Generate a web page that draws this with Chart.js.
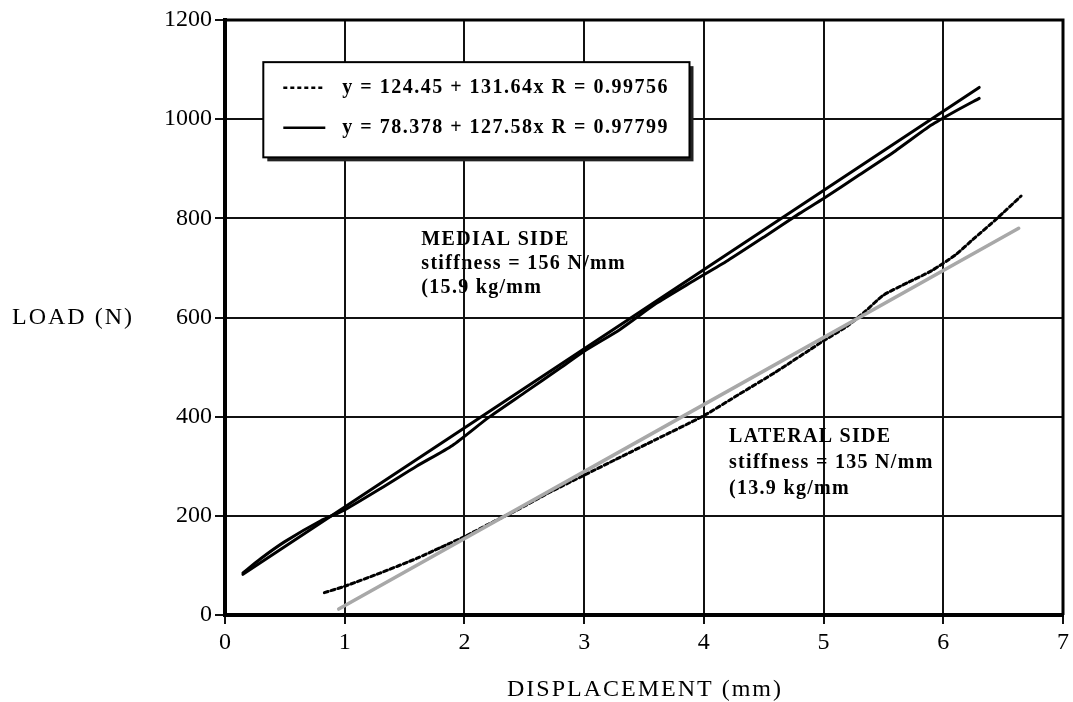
<!DOCTYPE html>
<html>
<head>
<meta charset="utf-8">
<script src="https://cdn.jsdelivr.net/npm/chart.js@4"></script>
<style>
  body { margin: 0; background: #fff; }
  #wrap { width: 1073px; height: 702px; position: relative; }
</style>
</head>
<body>
<div id="wrap"><canvas id="graph"></canvas></div>
<script>
// data
const medialX = [0.15, 0.3, 0.5, 0.8, 1.0, 1.3, 1.6, 1.9, 2.2, 2.5, 2.8, 3.0, 3.3, 3.6, 3.9, 4.2, 4.5, 4.8, 5.0, 5.3, 5.6, 5.9, 6.1, 6.3];
const medialY = [85, 114, 148, 190, 212, 255, 300, 342, 398, 448, 498, 532, 576, 628, 672, 715, 762, 810, 840, 888, 936, 988, 1016, 1042];
const medialFitX = [0.15, 6.3];
const medialFitY = [82, 1064];

const lateralX = [0.83, 1.0, 1.3, 1.6, 1.8, 2.0, 2.2, 2.45, 2.7, 3.0, 3.3, 3.6, 4.0, 4.3, 4.6, 5.0, 5.2, 5.35, 5.5, 5.7, 5.9, 6.1, 6.25, 6.45, 6.65];
const lateralY = [45, 58, 85, 114, 136, 158, 183, 213, 246, 282, 318, 354, 402, 446, 490, 553, 583, 613, 645, 670, 694, 726, 758, 800, 845];
const lateralFitX = [0.95, 6.63];
const lateralFitY = [12, 780];

const yTickLabels = ['0', '200', '400', '600', '800', '1000', '1200'];
const legendLines = ['y = 124.45 + 131.64x R = 0.99756', 'y = 78.378 + 127.58x R = 0.97799'];
const medialNote = ['MEDIAL SIDE', 'stiffness = 156 N/mm', '(15.9 kg/mm'];
const lateralNote = ['LATERAL SIDE', 'stiffness = 135 N/mm', '(13.9 kg/mm'];

const serif = '"Liberation Serif", "Times New Roman", serif';

function pts(xs, ys) {
    return xs.map((x, i) => ({ x: x, y: ys[i] }));
}

function writeLines(ctx, lines, x, y, step) {
    lines.forEach((t, i) => ctx.fillText(t, x, y + i * step));
}

const overlay = {
    id: 'overlay',
    beforeDraw(chart) {
        const ctx = chart.ctx;
        ctx.save();
        ctx.fillStyle = '#fff';
        ctx.fillRect(0, 0, chart.width, chart.height);
        ctx.restore();
    },
    afterDatasetsDraw(chart) {
        const ctx = chart.ctx;
        const a = chart.chartArea;
        const xs = chart.scales.x;
        const ys = chart.scales.y;

        // thick frame on top and right
        ctx.save();
        ctx.strokeStyle = '#000';
        ctx.lineWidth = 3;
        ctx.beginPath();
        ctx.moveTo(a.left, a.top);
        ctx.lineTo(a.right, a.top);
        ctx.lineTo(a.right, a.bottom);
        ctx.stroke();

        // legend box
        const bx = xs.getPixelForValue(0.32), by = ys.getPixelForValue(1115);
        const bw = xs.getPixelForValue(3.88) - bx, bh = ys.getPixelForValue(923) - by;
        ctx.fillStyle = '#222';
        ctx.fillRect(bx + 4, by + 4, bw, bh);
        ctx.fillStyle = '#fff';
        ctx.fillRect(bx, by, bw, bh);
        ctx.lineWidth = 2;
        ctx.strokeRect(bx, by, bw, bh);

        const y1 = by + bh * 0.27, y2 = by + bh * 0.69;
        ctx.lineWidth = 2.5;
        ctx.setLineDash([4, 3]);
        ctx.beginPath(); ctx.moveTo(bx + 20, y1); ctx.lineTo(bx + 62, y1); ctx.stroke();
        ctx.setLineDash([]);
        ctx.beginPath(); ctx.moveTo(bx + 20, y2); ctx.lineTo(bx + 62, y2); ctx.stroke();

        ctx.fillStyle = '#000';
        ctx.font = 'bold 20px ' + serif;
        ctx.letterSpacing = '1.5px';
        ctx.textBaseline = 'middle';
        ctx.fillText(legendLines[0], bx + 79, y1);
        ctx.fillText(legendLines[1], bx + 79, y2);

        // side notes
        ctx.font = 'bold 20px ' + serif;
        ctx.letterSpacing = '1.3px';
        writeLines(ctx, medialNote, xs.getPixelForValue(1.64), ys.getPixelForValue(756), 24);
        writeLines(ctx, lateralNote, xs.getPixelForValue(4.21), ys.getPixelForValue(360), 26);
        ctx.restore();
    },
    afterDraw(chart) {
        const ctx = chart.ctx;
        ctx.save();
        ctx.fillStyle = '#000';
        ctx.font = '24px ' + serif;
        ctx.letterSpacing = '2px';
        ctx.textBaseline = 'middle';
        ctx.textAlign = 'left';
        ctx.fillText('LOAD (N)', 12, chart.scales.y.getPixelForValue(600));
        ctx.textAlign = 'center';
        ctx.fillText('DISPLACEMENT (mm)', 645, 690);
        ctx.restore();
    }
};

const chart = new Chart(document.getElementById('graph'), {
    type: 'scatter',
    data: {
        datasets: [{
            label: 'Medial data',
            data: pts(medialX, medialY),
            borderColor: '#000',
            borderWidth: 3
        }, {
            label: 'Medial fit',
            data: pts(medialFitX, medialFitY),
            borderColor: '#000',
            borderWidth: 3
        }, {
            label: 'Lateral fit',
            data: pts(lateralFitX, lateralFitY),
            borderColor: '#a8a8a8',
            borderWidth: 3.5
        }, {
            label: 'Lateral data',
            data: pts(lateralX, lateralY),
            borderColor: '#000',
            borderWidth: 3,
            borderDash: [4, 3]
        }]
    },
    options: {
        responsive: true,
        maintainAspectRatio: false,
        animation: false,
        showLine: true,
        elements: {
            point: { radius: 0, hoverRadius: 0 },
            line: { tension: 0.2, fill: false, borderCapStyle: 'round' }
        },
        layout: { padding: { top: 20, right: 6, left: 0, bottom: 0 } },
        scales: {
            x: {
                type: 'linear',
                min: 0,
                max: 7,
                afterFit(scale) { scale.height = 87; },
                ticks: {
                    stepSize: 1,
                    color: '#000',
                    padding: 4,
                    font: { family: serif, size: 24 }
                },
                grid: { color: '#111', lineWidth: 2, tickLength: 9 },
                border: { color: '#000', width: 4 }
            },
            y: {
                min: 0,
                max: 1200,
                afterFit(scale) { scale.width = 225; },
                ticks: {
                    stepSize: 200,
                    color: '#000',
                    padding: 3,
                    font: { family: serif, size: 24 },
                    callback: (v, i) => yTickLabels[i]
                },
                grid: { color: '#111', lineWidth: 2, tickLength: 10 },
                border: { color: '#000', width: 4 }
            }
        },
        plugins: {
            legend: { display: false },
            tooltip: { enabled: false },
            title: { display: false }
        }
    },
    plugins: [overlay]
});
</script>
</body>
</html>
